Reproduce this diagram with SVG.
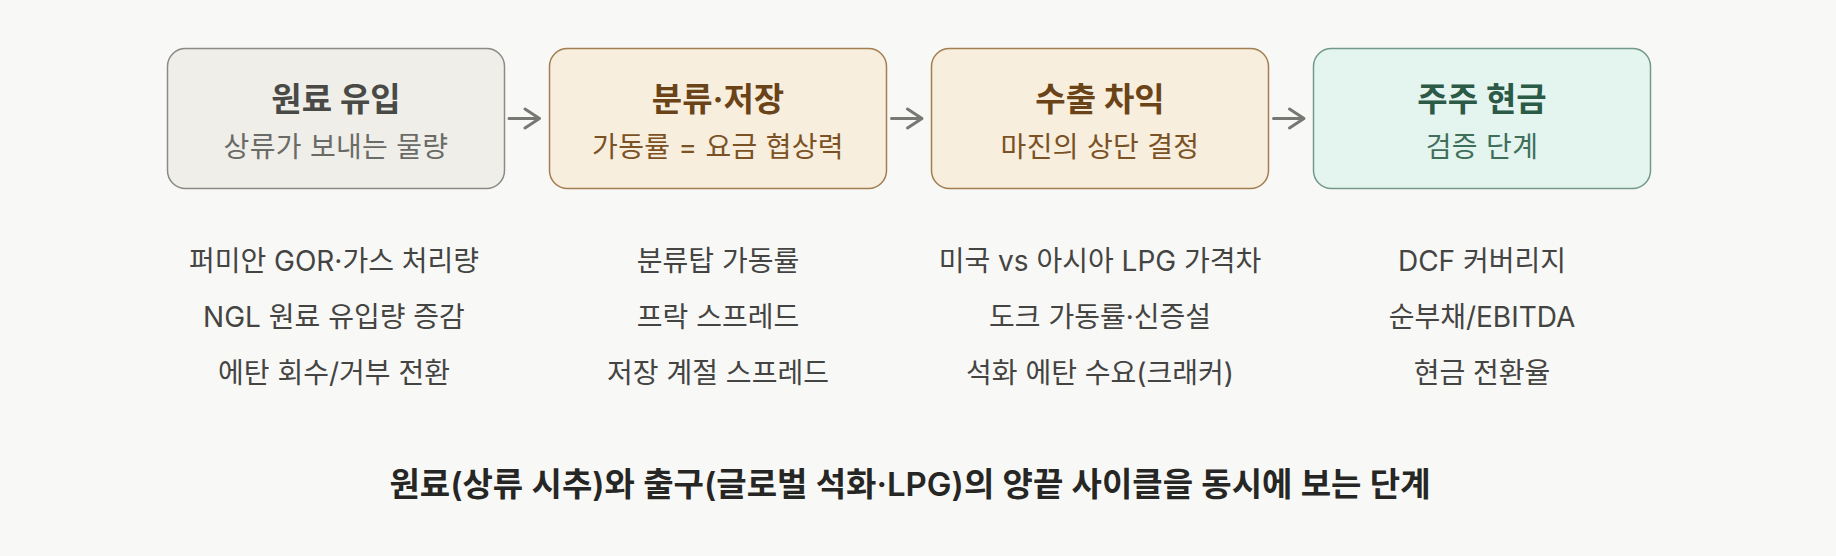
<svg xmlns="http://www.w3.org/2000/svg" width="1836" height="556" viewBox="0 0 1836 556">
<defs>
<style>
text{font-family:Inter,"Noto Sans CJK KR","Noto Sans",sans-serif;text-anchor:middle}
.box{stroke-width:1.5}
.t{font-size:33px;font-weight:700}
.s{font-size:28px;font-weight:400;letter-spacing:0.3px}
.l{font-size:28px;fill:#444442}
.cap{font-size:33px;font-weight:600;fill:#262624}
.arr{fill:none;stroke:#777773;stroke-width:3;stroke-linecap:round;stroke-linejoin:round}
.g .box{fill:#efeee9;stroke:#8b8a85}
.g .t{fill:#494945}.g .s{fill:#6a6a66}
.b .box{fill:#f7eedd;stroke:#a27e52}
.b .t{fill:#6a4418}.b .s{fill:#7b5226}
.m .box{fill:#e4f4ee;stroke:#73998a}
.m .t{fill:#2b5a47}.m .s{fill:#3f6f5b}
</style>
</defs>
<rect width="1836" height="556" fill="#f8f8f6"/>
<g id="node1" class="g">
<rect class="box" x="167.5" y="48.5" width="337" height="140" rx="18"/>
<text class="t" x="336" y="111">원료 유입</text>
<text class="s" x="336" y="157">상류가 보내는 물량</text>
</g>
<g id="node2" class="b">
<rect class="box" x="549.5" y="48.5" width="337" height="140" rx="18"/>
<text class="t" x="718" y="111">분류·저장</text>
<text class="s" x="718" y="157">가동률 = 요금 협상력</text>
</g>
<g id="node3" class="b">
<rect class="box" x="931.5" y="48.5" width="337" height="140" rx="18"/>
<text class="t" x="1100" y="111">수출 차익</text>
<text class="s" x="1100" y="157">마진의 상단 결정</text>
</g>
<g id="node4" class="m">
<rect class="box" x="1313.5" y="48.5" width="337" height="140" rx="18"/>
<text class="t" x="1482" y="111">주주 현금</text>
<text class="s" x="1482" y="157">검증 단계</text>
</g>
<g id="connectors">
<path class="arr" d="M509 118.5H539M525 109L539.5 118.5L525 128"/>
<path class="arr" d="M891.5 118.5H921.5M907.5 109L922 118.5L907.5 128"/>
<path class="arr" d="M1273.5 118.5H1303.5M1289.5 109L1304 118.5L1289.5 128"/>
</g>
<g id="details">
<text class="l" x="334" y="271">퍼미안 GOR·가스 처리량</text>
<text class="l" x="334" y="327">NGL 원료 유입량 증감</text>
<text class="l" x="334" y="383">에탄 회수/거부 전환</text>
<text class="l" x="718" y="271">분류탑 가동률</text>
<text class="l" x="718" y="327">프락 스프레드</text>
<text class="l" x="718" y="383">저장 계절 스프레드</text>
<text class="l" x="1100" y="271">미국 vs 아시아 LPG 가격차</text>
<text class="l" x="1100" y="327">도크 가동률·신증설</text>
<text class="l" x="1100" y="383">석화 에탄 수요(크래커)</text>
<text class="l" x="1482" y="271">DCF 커버리지</text>
<text class="l" x="1482" y="327">순부채/EBITDA</text>
<text class="l" x="1482" y="383">현금 전환율</text>
</g>
<text class="cap" x="910" y="496">원료(상류 시추)와 출구(글로벌 석화·LPG)의 양끝 사이클을 동시에 보는 단계</text>
</svg>
